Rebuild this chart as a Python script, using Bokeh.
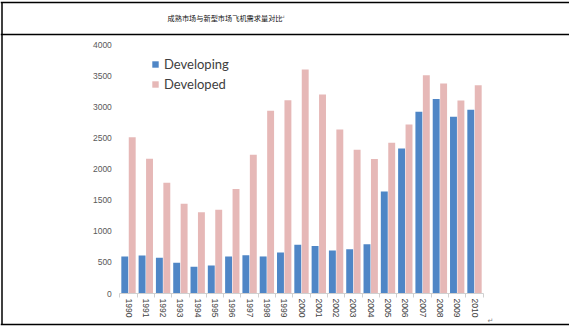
from bokeh.plotting import figure
from bokeh.models import (Range1d, LinearAxis, FixedTicker, Legend, LegendItem,
                          ColumnDataSource)
from bokeh.transform import dodge
from bokeh.core.properties import value
from bokeh.embed import file_html
from bokeh.resources import INLINE

# ---------------- data ----------------
years = [1990, 1991, 1992, 1993, 1994, 1995, 1996, 1997, 1998, 1999, 2000,
         2001, 2002, 2003, 2004, 2005, 2006, 2007, 2008, 2009, 2010]
developing = [595, 610, 575, 495, 430, 450, 595, 615, 595, 660, 785,
              765, 690, 710, 790, 1640, 2330, 2920, 3125, 2840, 2950]
developed = [2510, 2165, 1780, 1440, 1305, 1345, 1680, 2230, 2935, 3105, 3600,
             3195, 2635, 2310, 2160, 2420, 2715, 3505, 3375, 3100, 3345]
y_ticks = [0, 500, 1000, 1500, 2000, 2500, 3000, 3500, 4000]
series_names = ["Developing", "Developed"]
title_text = "成熟市场与新型市场飞机需求量对比"

# ---------------- layout mapping ----------------
W, H = 569, 328
PX_PER_YEAR = 17.3
CENTER_1990 = 128.0
PX_PER_UNIT = 249.0 / 4000.0
ZERO_Y = 293.0

x_start = years[0] - CENTER_1990 / PX_PER_YEAR
x_end = x_start + W / PX_PER_YEAR
y_end = ZERO_Y / PX_PER_UNIT
y_start = (ZERO_Y - H) / PX_PER_UNIT


def X(sx):
    return x_start + sx / PX_PER_YEAR


def Y(sy):
    return (ZERO_Y - sy) / PX_PER_UNIT


p = figure(width=W, height=H, output_backend="svg", toolbar_location=None,
           x_range=Range1d(x_start, x_end), y_range=Range1d(y_start, y_end),
           x_axis_type=None, y_axis_type=None, min_border=0,
           background_fill_color="white", border_fill_color="white")
p.outline_line_color = None
p.grid.visible = False

src = ColumnDataSource(dict(year=years, developing=developing, developed=developed))

BLUE = "#4f86c6"
PINK = "#e6b8b7"
r_dev = p.vbar(x=dodge("year", -0.215, range=p.x_range), top="developing", width=0.40,
               source=src, fill_color=BLUE, line_color=None)
r_ded = p.vbar(x=dodge("year", 0.215, range=p.x_range), top="developed", width=0.40,
               source=src, fill_color=PINK, line_color=None)

x_lo = years[0] - 0.5
x_hi = years[-1] + 0.5

# y axis (no line, labels only)
yax = LinearAxis(ticker=FixedTicker(ticks=y_ticks), fixed_location=x_lo,
                 bounds=(0, 4000))
yax.axis_line_color = None
yax.major_tick_line_color = None
yax.minor_tick_line_color = None
yax.major_tick_out = 0
yax.major_label_standoff = 8
yax.major_label_text_font = "Liberation Sans"
yax.major_label_text_font_size = "8.5px"
yax.major_label_text_color = "#595959"
p.add_layout(yax, "left")

# x axis: tick marks at category boundaries
bounds = [y - 0.5 for y in years] + [x_hi]
xax_t = LinearAxis(ticker=FixedTicker(ticks=bounds), fixed_location=0,
                   bounds=(x_lo, x_hi))
xax_t.axis_line_color = "#d0d0d0"
xax_t.major_tick_line_color = "#d0d0d0"
xax_t.major_tick_in = 0
xax_t.major_tick_out = 4
xax_t.minor_tick_line_color = None
xax_t.major_label_text_color = None
xax_t.major_label_text_font_size = "1px"
p.add_layout(xax_t, "below")

# x axis: year labels at category centres
xax = LinearAxis(ticker=FixedTicker(ticks=years), fixed_location=0,
                 bounds=(x_lo, x_hi))
xax.axis_line_color = None
xax.major_tick_line_color = None
xax.minor_tick_line_color = None
xax.major_tick_out = 0
xax.major_label_standoff = 5
xax.major_label_orientation = "vertical"
xax.major_label_overrides = {y: str(y) for y in years}
xax.major_label_text_font = "Liberation Sans"
xax.major_label_text_font_size = "8.5px"
xax.major_label_text_color = "#404040"
p.add_layout(xax, "below")

legend = Legend(items=[LegendItem(label=series_names[0], renderers=[r_dev]),
                       LegendItem(label=series_names[1], renderers=[r_ded])],
                location=(151, H - 94), orientation="vertical")
legend.glyph_width = 8
legend.glyph_height = 8
legend.label_height = 20
legend.spacing = 0
legend.padding = 0
legend.margin = 0
legend.label_standoff = 5
legend.border_line_color = None
legend.background_fill_alpha = 0
legend.label_text_font = "Lato"
legend.label_text_font_size = "13px"
legend.label_text_color = "#404040"
p.add_layout(legend, "center")

# table borders
p.segment(x0=[X(0), X(0), X(0), X(1.5)], x1=[X(W), X(W), X(W), X(1.5)],
          y0=[Y(2), Y(34), Y(324), Y(2)], y1=[Y(2), Y(34), Y(324), Y(324)],
          line_color="black", line_width=1.5)

# title and paragraph marks
p.text(x=[X(167)], y=[Y(17)], text=[title_text], text_font=value("Noto Sans CJK SC"),
       text_font_size="7.2px", text_color="#111111", text_align="left",
       text_baseline="middle")
p.text(x=[X(279), X(487)], y=[Y(17), Y(320)], text=["↵", "↵"],
       text_font=value("DejaVu Sans"), text_font_size="7px", text_color="#808080",
       text_align="left", text_baseline="middle")

open("out.html", "w").write(file_html(p, INLINE))
